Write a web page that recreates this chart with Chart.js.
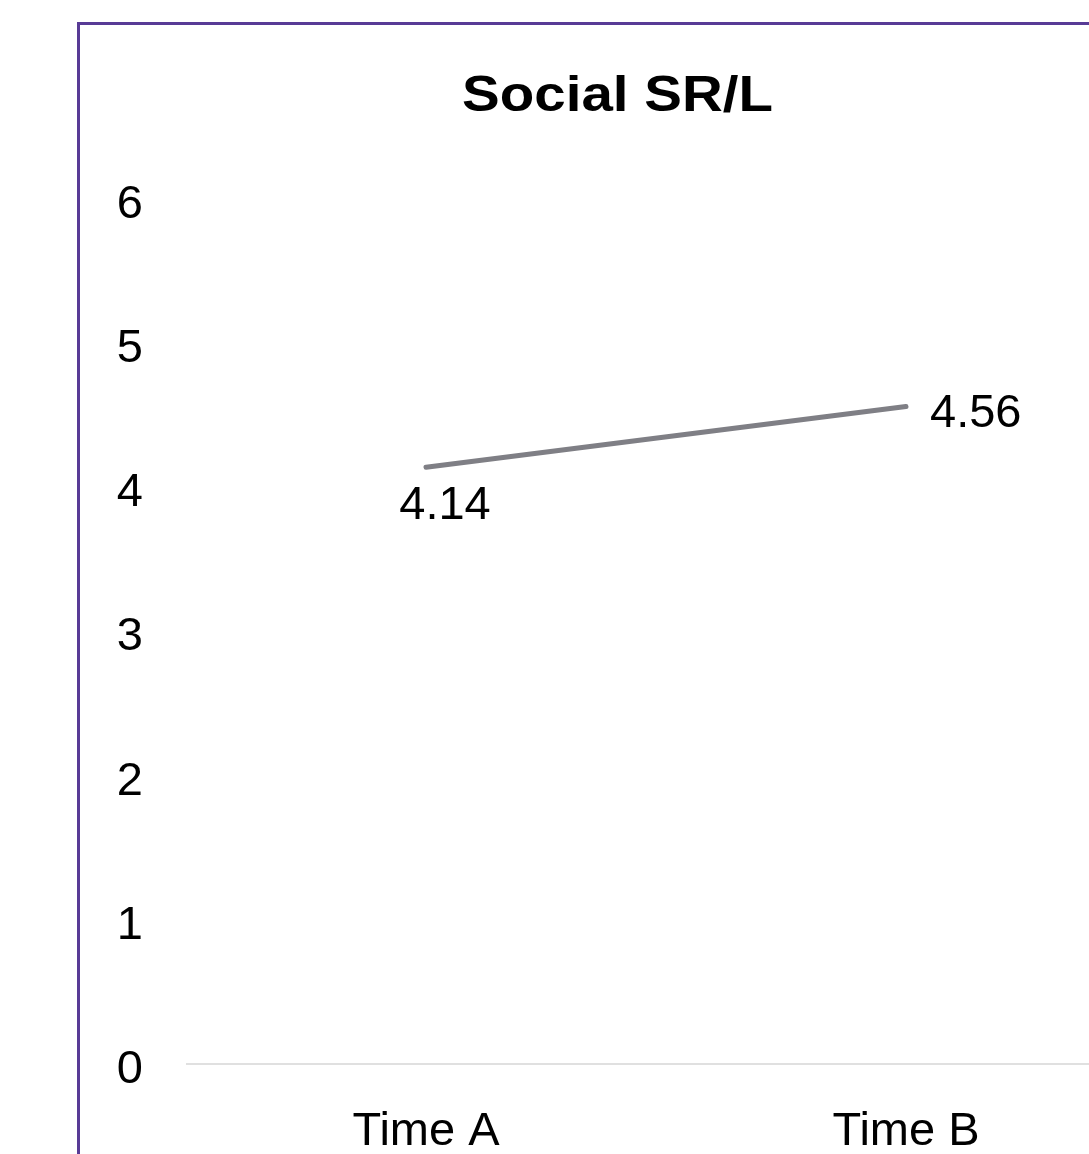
<!DOCTYPE html>
<html>
<head>
<meta charset="utf-8">
<script src="https://cdn.jsdelivr.net/npm/chart.js@4"></script>
<style>
  html, body { margin: 0; padding: 0; background: #ffffff; overflow: hidden; }
  #wrap { position: relative; width: 1089px; height: 1154px; overflow: hidden; }
  #frame {
    position: absolute; left: 77px; top: 22px; width: 1080px; height: 1200px;
    border-left: 3px solid #583b96; border-top: 3px solid #583b96;
    box-sizing: border-box; pointer-events: none;
  }
  #chart { position: absolute; left: 0; top: 0; }
</style>
</head>
<body>
<div id="wrap">
  <canvas id="chart" width="1160" height="1154"></canvas>
  <div id="frame"></div>
</div>
<script>
const chartTitle = 'Social SR/L';
const categories = ['Time A', 'Time B'];
const scores = [4.14, 4.56];
const yTicks = [0, 1, 2, 3, 4, 5, 6];

const FONT = '"Liberation Sans", Arial, Helvetica, sans-serif';

// Bold title, drawn slightly widened above the plot
const titlePlugin = {
  id: 'wideTitle',
  afterDraw(chart, args, opts) {
    const ctx = chart.ctx;
    ctx.save();
    ctx.font = 'bold 50px ' + FONT;
    ctx.fillStyle = '#000000';
    ctx.textAlign = 'center';
    ctx.textBaseline = 'alphabetic';
    ctx.translate(opts.x, opts.y);
    ctx.scale(opts.stretch, 1);
    ctx.fillText(opts.text, 0, 0);
    ctx.restore();
  }
};

// Value labels next to each point of the line
const valueLabels = {
  id: 'valueLabels',
  afterDatasetsDraw(chart, args, opts) {
    const ctx = chart.ctx;
    const meta = chart.getDatasetMeta(0);
    const data = chart.data.datasets[0].data;
    ctx.save();
    ctx.font = '47px ' + FONT;
    ctx.fillStyle = '#000000';
    ctx.textBaseline = 'alphabetic';
    meta.data.forEach((pt, i) => {
      const o = opts.offsets[i];
      ctx.textAlign = o.align;
      ctx.fillText(data[i].toFixed(2), pt.x + o.dx, pt.y + o.dy);
    });
    ctx.restore();
  }
};

new Chart(document.getElementById('chart'), {
  type: 'line',
  data: {
    labels: categories,
    datasets: [{
      data: scores,
      borderColor: '#7f7f85',
      borderWidth: 5,
      borderCapStyle: 'round',
      pointRadius: 0,
      pointHoverRadius: 0,
      tension: 0,
      fill: false
    }]
  },
  options: {
    responsive: false,
    devicePixelRatio: 1,
    animation: false,
    events: [],
    layout: { padding: { left: 100, right: 14, top: 199, bottom: 0 } },
    plugins: {
      legend: { display: false },
      title: { display: false },
      tooltip: { enabled: false },
      wideTitle: { text: chartTitle, x: 617.5, y: 111, stretch: 1.13 },
      valueLabels: {
        offsets: [
          { align: 'center', dx: 19, dy: 52 },
          { align: 'left', dx: 24, dy: 20 }
        ]
      }
    },
    scales: {
      x: {
        type: 'category',
        offset: true,
        grid: { display: false, drawTicks: false },
        border: { display: false },
        ticks: { color: '#000000', font: { family: FONT, size: 47 }, padding: 40, maxRotation: 0 },
        afterFit(s) { s.height = 90; }
      },
      y: {
        min: yTicks[0],
        max: yTicks[yTicks.length - 1],
        afterBuildTicks(s) { s.ticks = yTicks.map(v => ({ value: v })); },
        grid: {
          drawTicks: false,
          lineWidth: 2,
          color: (c) => (c.tick && c.tick.value === 0 ? '#e0e0e0' : 'rgba(0,0,0,0)')
        },
        border: { display: false },
        ticks: { color: '#000000', font: { family: FONT, size: 47 }, padding: 43, labelOffset: 6 },
        afterFit(s) { s.width = 86; }
      }
    }
  },
  plugins: [titlePlugin, valueLabels]
});
</script>
</body>
</html>
